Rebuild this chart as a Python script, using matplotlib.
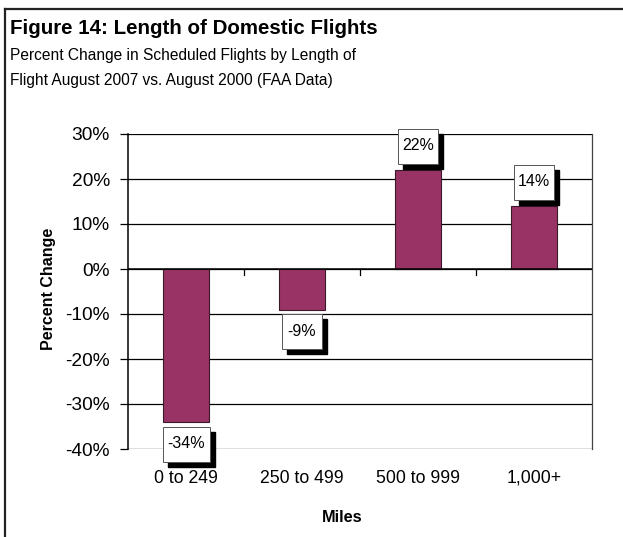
import matplotlib.pyplot as plt
from matplotlib.lines import Line2D
from matplotlib.patches import Rectangle
from matplotlib.transforms import Affine2D, ScaledTranslation

plt.rcParams["font.family"] = ["Liberation Sans", "DejaVu Sans"]

categories = ["0 to 249", "250 to 499", "500 to 999", "1,000+"]
pct_change = [-34, -9, 22, 14]
yticks = [-40, -30, -20, -10, 0, 10, 20, 30]

fig = plt.figure(figsize=(6.23, 5.37), dpi=100)
ax = fig.add_axes([128 / 623, 88 / 537, 464 / 623, 315 / 537])

x = list(range(len(categories)))
ax.bar(x, pct_change, width=0.4, color="#993366", edgecolor="#3a1a2a", linewidth=0.8, zorder=3)

ax.set_xlim(-0.5, len(categories) - 0.5)
ax.set_ylim(-40, 30)
ax.set_yticks(yticks)
ax.set_yticklabels([f"{t}%" for t in yticks], fontsize=13.8)
ax.set_xticks(x)
ax.set_xticklabels(categories, fontsize=12.7)
ax.tick_params(axis="x", length=0, pad=15)
ax.tick_params(axis="y", direction="out", length=6, width=0.9, pad=7)

for t in yticks:
    ax.axhline(t, color="black", linewidth=0.9, zorder=1)
ax.axhline(0, color="black", linewidth=1.1, zorder=4)
# category separator ticks on the zero line
for b in range(1, len(categories)):
    ax.plot([b - 0.5, b - 0.5], [0, -1.3], color="black", linewidth=0.9, zorder=4)

for side in ["top", "bottom"]:
    ax.spines[side].set_visible(False)
ax.spines["left"].set_linewidth(1.1)
ax.spines["right"].set_linewidth(0.9)
ax.spines["right"].set_color("#444444")

# value labels: white box with black drop shadow
for i, v in enumerate(pct_change):
    label = f"{v}%"
    w = 19 + 7 * len(label)
    h = 35
    cy = 24 if v > 0 else -22
    trans = Affine2D() + ScaledTranslation(i, v, ax.transData)
    ax.add_patch(Rectangle((-w / 2 + 5, cy - h / 2 - 5), w, h, transform=trans,
                           facecolor="black", edgecolor="black", zorder=5, clip_on=False))
    ax.add_patch(Rectangle((-w / 2, cy - h / 2), w, h, transform=trans,
                           facecolor="white", edgecolor="#555555", linewidth=0.7,
                           zorder=6, clip_on=False))
    ax.text(0, cy, label, transform=trans, ha="center", va="center", fontsize=11.5,
            zorder=7, clip_on=False)

fig.text(48 / 623, 1 - 288.5 / 537, "Percent Change", fontsize=11.5, fontweight="bold",
         rotation=90, ha="center", va="center")
fig.text(342 / 623, 1 - 517 / 537, "Miles", fontsize=11.8, fontweight="bold",
         ha="center", va="center")

fig.text(10 / 623, 1 - 34 / 537, "Figure 14: Length of Domestic Flights", fontsize=14.8,
         fontweight="bold", va="baseline", ha="left")
fig.text(10 / 623, 1 - 60 / 537, "Percent Change in Scheduled Flights by Length of",
         fontsize=11.2, va="baseline", ha="left")
fig.text(10 / 623, 1 - 85 / 537, "Flight August 2007 vs. August 2000 (FAA Data)",
         fontsize=11.2, va="baseline", ha="left")

# outer frame lines (top and left)
fig.add_artist(Line2D([5 / 623, 1.0], [1 - 9 / 537, 1 - 9 / 537], color="#222222", linewidth=1.6))
fig.add_artist(Line2D([5 / 623, 5 / 623], [0.0, 1 - 9 / 537], color="#222222", linewidth=1.6))

fig.savefig("out.png", dpi=100)
